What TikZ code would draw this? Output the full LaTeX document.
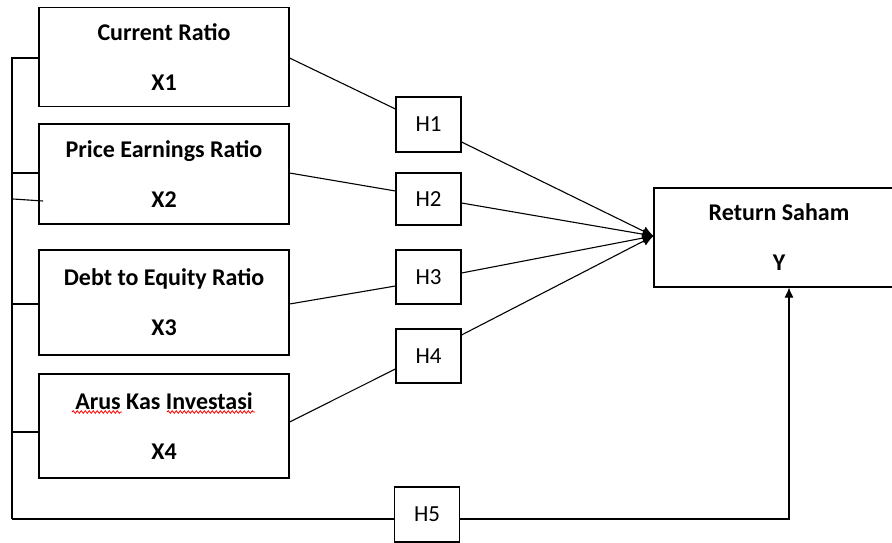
\documentclass[tikz,border=0pt]{standalone}
\usepackage{fontspec}
\setmainfont{Carlito}
\usetikzlibrary{arrows.meta, positioning, calc, decorations.pathmorphing}

\begin{document}
\begin{tikzpicture}[x=1pt, y=-1pt, line width=1.1pt]
            \tikzstyle{varbox} = [draw, rectangle, minimum width=250pt, minimum height=99pt, align=center, inner sep=0pt, font=\fontsize{24}{50}\selectfont\bfseries]
            \tikzstyle{hypbox} = [draw, rectangle, minimum width=65pt, minimum height=55pt, inner sep=0pt, font=\fontsize{23}{24}\selectfont]
            \tikzstyle{spellmark} = [red, line width=0.8pt, decorate, decoration={snake, amplitude=1.3pt, segment length=4pt}]
            \useasboundingbox (0,0) rectangle (892,543);

            \node[varbox] (x1) at (164, 57) {Current Ratio\\X1};
            \node[varbox, minimum height=100pt] (x2) at (164, 174) {Price Earnings Ratio\\X2};
            \node[varbox, minimum height=105pt] (x3) at (164, 302.5) {Debt to Equity Ratio\\X3};
            \node[varbox, minimum height=104pt] (x4) at (164, 426) {Arus Kas Investasi\\X4};
            \node[varbox] (y) at (779, 237.5) {Return Saham\\Y};

            \node[hypbox] (h1) at (428.5, 124.5) {H1};
            \node[hypbox, minimum height=52pt] (h2) at (428.5, 199) {H2};
            \node[hypbox, minimum height=54pt] (h3) at (428.5, 277) {H3};
            \node[hypbox, minimum height=54pt] (h4) at (428.5, 356) {H4};
            \node[hypbox] (h5) at (427, 514.5) {H5};

            % spell check marks
            \draw[spellmark] (72, 412) -- (122, 412);
            \draw[spellmark] (167, 412) -- (255, 412);

            % left bus
            \coordinate (bustop) at (12, 58);
            \coordinate (busbot) at (12, 519);
            \draw (busbot) -- (bustop) -- (x1.west |- bustop);
            \draw (12, 173) -- (x2.west |- 0,173);
            \draw (13, 199) -- (43, 201);
            \draw (12, 304) -- (x3.west |- 0,304);
            \draw (12, 432) -- (x4.west |- 0,432);
            \draw (busbot) -- (h5.west |- busbot);
            \draw[-{Latex[length=10pt, width=9pt]}] (h5.east |- busbot) -| (y.south -| 789,0);

            % variables to hypotheses
            \draw (x1.east |- 0,58) -- (h1.west |- 0,109);
            \draw (x2.east |- 0,173) -- (h2.west |- 0,191);
            \draw (x3.east |- 0,304) -- (h3.west |- 0,286);
            \draw (x4.east |- 0,422) -- (h4.west |- 0,369);

            % hypotheses to Y
            \coordinate (ytip) at (y.west |- 0,236);
            \draw[-{Latex[length=11pt, width=10pt]}] (h1.east |- 0,142) -- (ytip);
            \draw[-{Latex[length=11pt, width=10pt]}] (h2.east |- 0,203) -- (ytip);
            \draw[-{Latex[length=11pt, width=10pt]}] (h3.east |- 0,273) -- (ytip);
            \draw[-{Latex[length=11pt, width=10pt]}] (h4.east |- 0,335) -- (ytip);
        \end{tikzpicture}
\end{document}
